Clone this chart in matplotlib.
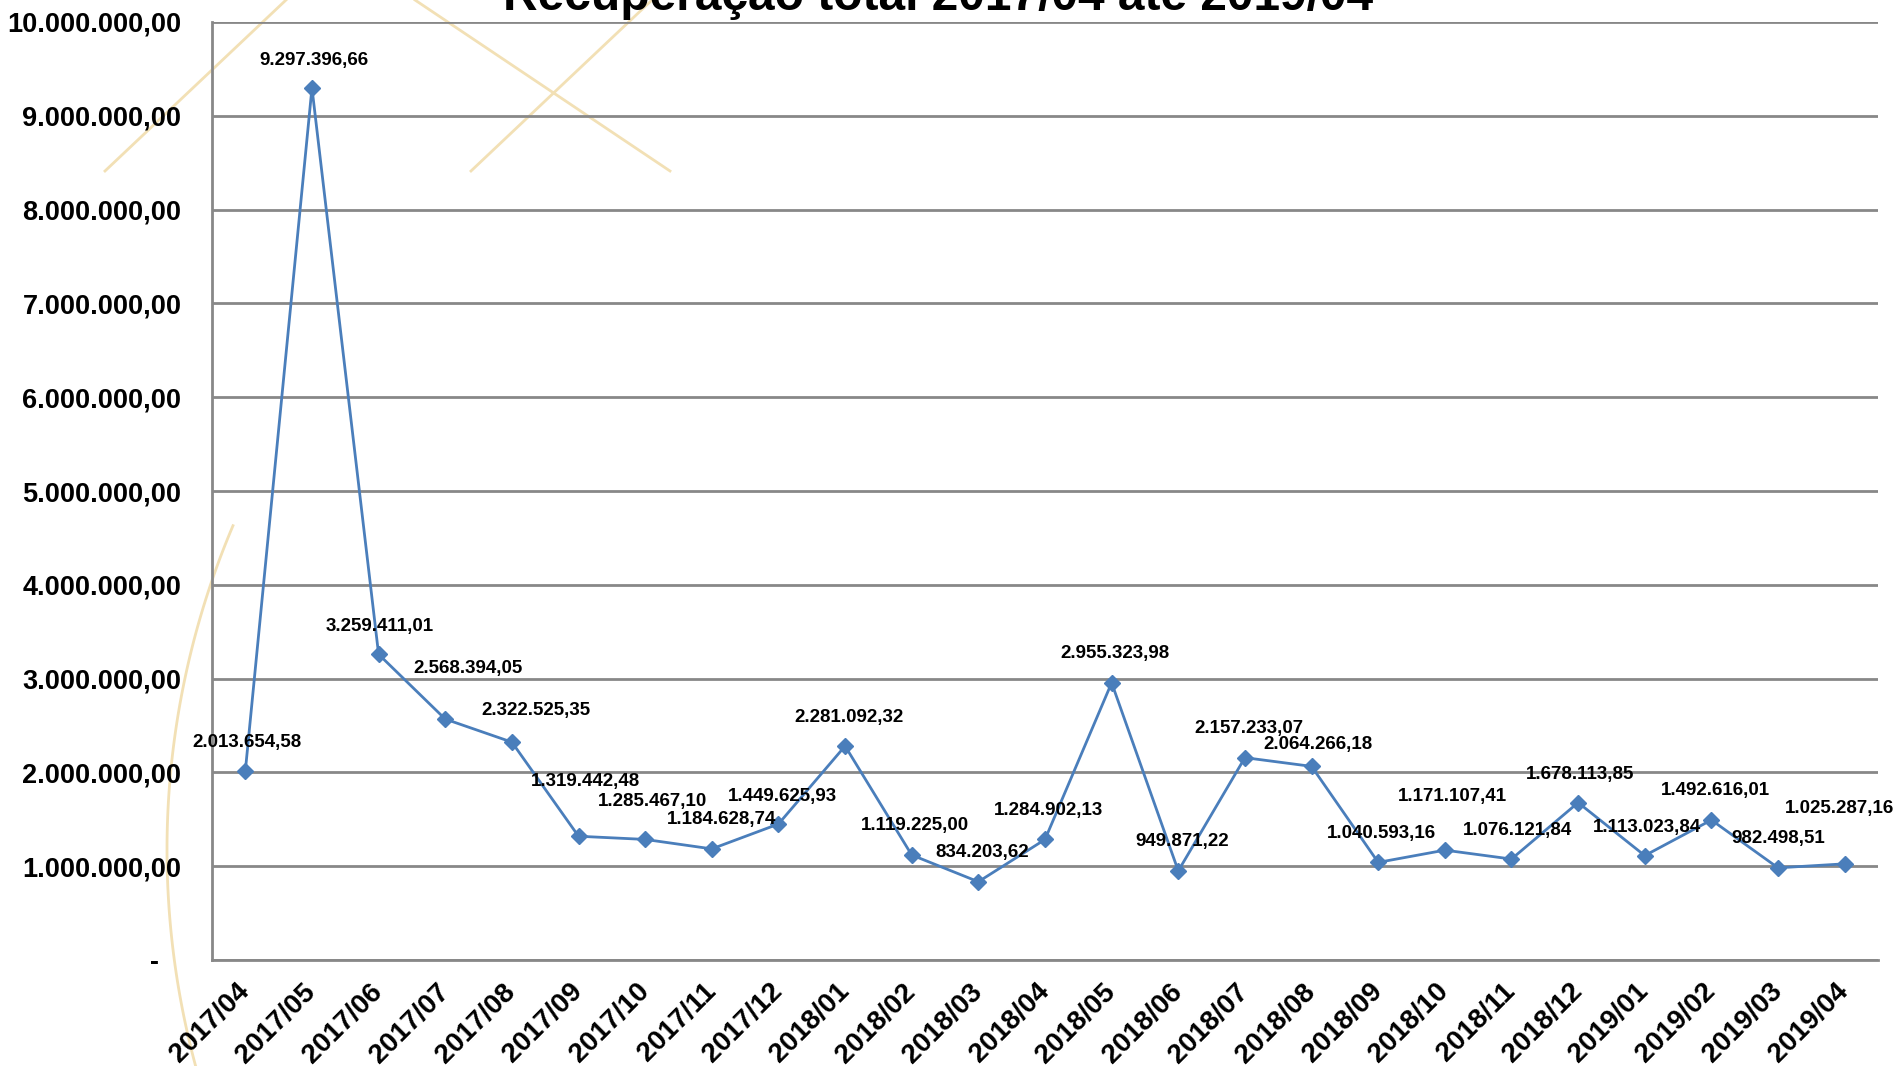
import matplotlib
matplotlib.use("Agg")
import matplotlib.pyplot as plt
import numpy as np
from matplotlib.lines import Line2D

months = ["2017/04", "2017/05", "2017/06", "2017/07", "2017/08", "2017/09", "2017/10",
          "2017/11", "2017/12", "2018/01", "2018/02", "2018/03", "2018/04", "2018/05",
          "2018/06", "2018/07", "2018/08", "2018/09", "2018/10", "2018/11", "2018/12",
          "2019/01", "2019/02", "2019/03", "2019/04"]

recuperacao = [2013654.58, 9297396.66, 3259411.01, 2568394.05, 2322525.35, 1319442.48,
               1285467.10, 1184628.74, 1449625.93, 2281092.32, 1119225.00, 834203.62,
               1284902.13, 2955323.98, 949871.22, 2157233.07, 2064266.18, 1040593.16,
               1171107.41, 1076121.84, 1678113.85, 1113023.84, 1492616.01, 982498.51,
               1025287.16]

y_ticks = [0, 1e6, 2e6, 3e6, 4e6, 5e6, 6e6, 7e6, 8e6, 9e6, 10e6]

# label offsets (pixels, like the excel layout)
label_dx = [1, 2, 1, 19, 20, 6, 6, 8, 3, 3, 3, 3, 3, 3, 3, 3, 5, 3, 6, 5, 2, 2, 3, 0, -4]
label_dy = [24, 23, 23, 42, 26, 45, 31, 24, 23, 24, 24, 24, 24, 24, 24, 24, 18, 24, 44, 24, 23, 23, 24, 24, 46]


def br(v):
    # brazilian number format 1.234.567,89
    s = "{:,.2f}".format(v)
    return s.replace(",", "X").replace(".", ",").replace("X", ".")


plt.rcParams["font.family"] = "Liberation Sans"
plt.rcParams["font.weight"] = "bold"

W, H = 1897, 1066
fig = plt.figure(figsize=(W / 100, H / 100), dpi=100)


def fx(px):
    return px / W


def fy(py):
    return 1 - py / H


# faint golden decoration from the slide template
deco = "#f2e0b5"
for (x1, y1), (x2, y2) in [((105, 171), (286, 0)), ((415, 0), (670, 171)), ((471, 171), (652, 0))]:
    fig.add_artist(Line2D([fx(x1), fx(x2)], [fy(y1), fy(y2)], color=deco, lw=2, zorder=-5))
t = np.radians(np.linspace(157, 196, 80))
cx, cy, r = 997, 850, 830
fig.add_artist(Line2D(fx(cx + r * np.cos(t)), fy(cy - r * np.sin(t)), color=deco, lw=2, zorder=-5))

ax = fig.add_axes([212 / W, 1 - 960 / H, (1878 - 212) / W, (960 - 22) / H])
ax.set_facecolor("none")

x = np.arange(len(months))
ax.plot(x, recuperacao, color="#4a7ebb", lw=2, marker="D", markersize=8, zorder=3)

for i, v in enumerate(recuperacao):
    ax.annotate(br(v), (x[i], v), xytext=(label_dx[i] * 0.871, label_dy[i] * 0.871),
                textcoords="offset points", ha="center", va="center",
                fontsize=13.5, fontweight="bold", color="black", zorder=4)

ax.set_xlim(-0.5, len(months) - 0.5)
ax.set_ylim(0, 10e6)
ax.set_yticks(y_ticks)
ax.set_yticklabels(["-   "] + [br(v) for v in y_ticks[1:]], fontsize=19.5, fontweight="bold")
ax.set_xticks(x)
ax.set_xticklabels(months, rotation=45, ha="right", va="center", rotation_mode="anchor",
                   fontsize=20, fontweight="bold")
ax.tick_params(axis="both", length=0)
ax.tick_params(axis="y", pad=22)
ax.tick_params(axis="x", pad=20)

ax.grid(axis="y", color="#888888", lw=2)
ax.set_axisbelow(True)
for s in ["top", "right"]:
    ax.spines[s].set_visible(False)
ax.spines["left"].set_color("#888888")
ax.spines["left"].set_linewidth(2)
ax.spines["bottom"].set_color("#888888")
ax.spines["bottom"].set_linewidth(2)

fig.text(938 / W, fy(10), "Recuperação total 2017/04 até 2019/04", ha="center", va="baseline",
         fontsize=34.5, fontweight="bold")

plt.savefig("out.png", dpi=100)
